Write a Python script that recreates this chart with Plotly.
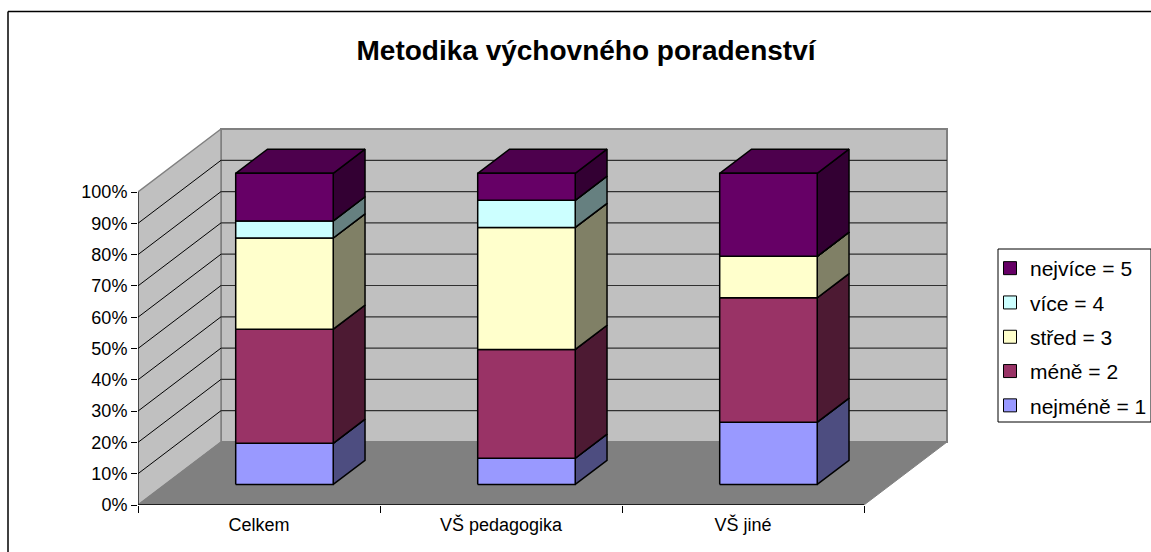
import plotly.graph_objects as go

categories = ["Celkem", "VŠ pedagogika", "VŠ jiné"]
series_names = ["nejméně = 1", "méně = 2", "střed = 3", "více = 4", "nejvíce = 5"]
nejmene = [13.2, 8.4, 20.0]
mene = [36.7, 35.0, 40.0]
stred = [29.3, 39.2, 13.3]
vice = [5.5, 8.7, 0.0]
nejvice = [15.3, 8.7, 26.7]
series_values = [nejmene, mene, stred, vice, nejvice]
front_colors = ["#9999FF", "#993366", "#FFFFCC", "#CCFFFF", "#660066"]
side_colors = ["#4D4D80", "#4D1A33", "#808066", "#668080", "#330033"]
top_colors = ["#7373BF", "#73264D", "#BFBF99", "#99BFBF", "#4D004D"]
y_ticks = list(range(0, 101, 10))
y_tick_labels = [f"{v}%" for v in y_ticks]

# oblique projection of the 3-D chart box onto the flat axes
CAT_PX, PCT_PX = 242.0, 3.13
DEPTH_X, DEPTH_Y = 83 / CAT_PX, 63 / PCT_PX
BAR_L, BAR_R = 0.295, 0.698
BAR_Z0, BAR_Z1 = 0.317, 0.70
L, R, T, B = 138, 950, 125, 505
W, H = 1151, 552


def px_x(v):
    return (v - L) / (R - L)


def px_y(v):
    return (B - v) / (B - T)


def proj(x, y, z):
    return x + z * DEPTH_X, y + z * DEPTH_Y


def bar_y(v):
    # slight perspective shrink of the boxes inside the chart depth
    return v * 0.994 + 0.2


def poly(points):
    pts = [proj(*p) for p in points]
    pts.append(pts[0])
    return [p[0] for p in pts], [p[1] for p in pts]


def face(xs, ys, fill, line="black", width=1.5):
    return go.Scatter(x=xs, y=ys, mode="lines", fill="toself", fillcolor=fill,
                      line=dict(color=line, width=width), showlegend=False,
                      hoverinfo="skip", cliponaxis=False)


def segment(xs, ys, color="black", width=1.0):
    return go.Scatter(x=xs, y=ys, mode="lines", line=dict(color=color, width=width),
                      showlegend=False, hoverinfo="skip", cliponaxis=False)


fig = go.Figure()
n = len(categories)
# walls and floor
fig.add_trace(face(*poly([(0, 0, 1), (n, 0, 1), (n, 100, 1), (0, 100, 1)]), "#C0C0C0", "#808080", 2))
fig.add_trace(face(*poly([(0, 0, 0), (0, 0, 1), (0, 100, 1), (0, 100, 0)]), "#C0C0C0", "#808080", 1.5))
fig.add_trace(face(*poly([(0, 0, 0), (n, 0, 0), (n, 0, 1), (0, 0, 1)]), "#808080", "#808080", 1))
# gridlines
for v in y_ticks[1:-1]:
    a = proj(0, v, 0)
    b = proj(0, v, 1)
    c = proj(n, v, 1)
    fig.add_trace(segment([a[0], b[0]], [a[1], b[1]], "#000000", 1))
    fig.add_trace(segment([b[0], c[0]], [b[1], c[1]], "#303030", 1.2))
# stacked boxes
for k, values in enumerate(series_values):
    for i, v in enumerate(values):
        base = bar_y(sum(s[i] for s in series_values[:k]))
        top = bar_y(sum(s[i] for s in series_values[:k + 1]))
        x0, x1 = i + BAR_L, i + BAR_R
        fig.add_trace(face(*poly([(x1, base, BAR_Z0), (x1, base, BAR_Z1), (x1, top, BAR_Z1), (x1, top, BAR_Z0)]), side_colors[k]))
        fig.add_trace(face(*poly([(x0, top, BAR_Z0), (x1, top, BAR_Z0), (x1, top, BAR_Z1), (x0, top, BAR_Z1)]), top_colors[k]))
        fig.add_trace(face(*poly([(x0, base, BAR_Z0), (x1, base, BAR_Z0), (x1, top, BAR_Z0), (x0, top, BAR_Z0)]), front_colors[k]))
# axis lines
fig.add_trace(segment([0, 0], [0, 100], "black", 1))
fig.add_trace(segment([0, n], [0, 0], "black", 1.5))
# legend entries, top row first
for k in reversed(range(len(series_names))):
    fig.add_trace(go.Scatter(x=[None], y=[None], mode="markers", name=series_names[k], legendgroup=series_names[k],
                             marker=dict(symbol="square", size=13, color=front_colors[k],
                                         line=dict(color="black", width=1))))

FONT = "Liberation Sans, Arial, sans-serif"
fig.update_layout(
    width=W, height=H, autosize=False,
    margin=dict(l=L, r=W - R, t=T, b=H - B, pad=0, autoexpand=False),
    paper_bgcolor="white", plot_bgcolor="white",
    font=dict(family=FONT, color="black"),
    title=dict(text="<b>Metodika výchovného poradenství</b>", x=586 / W, xanchor="center",
               y=1 - 50 / H, yanchor="middle", font=dict(size=28, family=FONT, color="black")),
    xaxis=dict(range=[0, (R - L) / CAT_PX], showgrid=False, zeroline=False, showline=False,
               tickmode="array", tickvals=[i + 0.5 for i in range(n)], ticktext=categories,
               ticks="", tickfont=dict(size=18), ticklabelstandoff=7,
               minor=dict(tickmode="array", tickvals=list(range(n + 1)), ticks="outside",
                          ticklen=7, tickcolor="black", tickwidth=1, showgrid=False)),
    yaxis=dict(range=[0, (B - T) / PCT_PX], showgrid=False, zeroline=False, showline=False,
               tickmode="array", tickvals=y_ticks, ticktext=y_tick_labels, ticks="outside",
               ticklen=6, tickcolor="black", tickwidth=1, tickfont=dict(size=18)),
    legend=dict(x=px_x(990), xanchor="left", y=px_y(248), yanchor="top",
                bgcolor="rgba(0,0,0,0)", borderwidth=0, font=dict(size=21),
                traceorder="grouped", tracegroupgap=4, itemclick=False, itemdoubleclick=False),
    shapes=[
        dict(type="rect", xref="paper", yref="paper", x0=px_x(998), x1=px_x(1151),
             y0=px_y(249), y1=px_y(422),
             line=dict(color="black", width=1), fillcolor="white", layer="below"),
        dict(type="line", xref="paper", yref="paper", x0=px_x(8), x1=px_x(W),
             y0=px_y(11.5), y1=px_y(11.5), line=dict(color="black", width=1.5), layer="below"),
        dict(type="line", xref="paper", yref="paper", x0=px_x(8), x1=px_x(8),
             y0=px_y(11.5), y1=px_y(H), line=dict(color="black", width=1.5), layer="below"),
    ],
)
fig.write_html("out.html", config={"displayModeBar": False},
               post_script="document.body.style.margin='0';document.body.style.overflow='hidden';")
